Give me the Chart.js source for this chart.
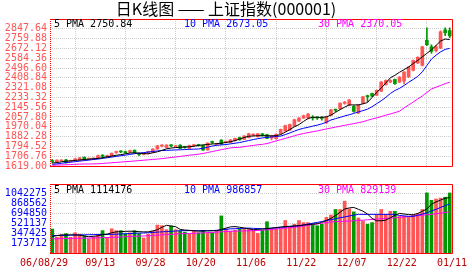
<!DOCTYPE html>
<html>
<head>
<meta charset="utf-8">
<script src="https://cdn.jsdelivr.net/npm/chart.js@4/dist/chart.umd.min.js"></script>
<style>
  body { margin: 0; background: #fff; }
  #wrap { position: relative; width: 472px; height: 273px; }
  #kline { position: absolute; left: 0; top: 0; }
  #vol { position: absolute; left: 0; top: 175px; }
</style>
</head>
<body>
<div id="wrap">
  <canvas id="kline" width="472" height="175"></canvas>
  <canvas id="vol" width="472" height="98"></canvas>
</div>
<script>
// x tick labels, one every 11 trading days
const dates = ['06/08/29', '09/13', '09/28', '10/20', '11/06', '11/22', '12/07', '12/22', '01/11'];
const priceTicks = [1619.00, 1706.76, 1794.52, 1882.28, 1970.04, 2057.80, 2145.56, 2233.32,
                    2321.08, 2408.84, 2496.60, 2584.36, 2672.12, 2759.88, 2847.64];
const priceMax = 2935.40;
const volTicks = [173712, 347425, 521137, 694850, 868562, 1042275];
const volTickMax = 1215987;
const volMax = 1387500;

const priceLegend = ['5 PMA 2750.84', '10 PMA 2673.05', '30 PMA 2370.05'];
const volLegend = ['5 PMA 1114176', '10 PMA 986857', '30 PMA 829139'];

// daily candles
const opens = [
  1663,1654,1664,1674,1660,1672,1672,1698,1680,1680,
  1689,1710,1702,1706,1740,1748,1748,1742,1760,1726,
  1722,1733,1742,1771,1798,1786,1804,1792,1806,1790,
  1777,1800,1806,1803,1763,1834,1812,1850,1830,1829,
  1845,1873,1858,1873,1895,1882,1902,1899,1870,1864,
  1908,1932,1941,1976,2020,2049,2049,2055,2052,2050,
  2010,2073,2122,2131,2180,2166,2152,2093,2181,2245,
  2268,2253,2289,2347,2371,2394,2371,2380,2417,2476,
  2541,2520,2745,2687,2652,2675,2838,2832];
const highs = [
  1678,1675,1676,1678,1672,1686,1696,1700,1690,1694,
  1716,1722,1716,1736,1752,1756,1752,1762,1764,1735,
  1738,1752,1774,1804,1810,1810,1810,1802,1810,1796,
  1806,1812,1814,1806,1828,1842,1824,1856,1842,1856,
  1870,1878,1892,1912,1908,1912,1912,1902,1894,1906,
  1950,1985,1994,2038,2053,2075,2090,2070,2062,2062,
  2062,2126,2130,2185,2198,2215,2160,2170,2243,2254,
  2272,2300,2375,2390,2392,2398,2420,2465,2510,2568,
  2597,2692,2856,2705,2700,2830,2856,2856];
const lows = [
  1648,1650,1660,1645,1656,1668,1668,1674,1675,1676,
  1686,1692,1699,1702,1732,1738,1734,1738,1734,1712,
  1718,1728,1738,1768,1790,1782,1792,1788,1774,1778,
  1774,1794,1796,1758,1760,1820,1806,1812,1826,1826,
  1842,1850,1855,1870,1890,1878,1886,1864,1852,1860,
  1904,1928,1937,1972,2016,2044,2040,2030,2036,2030,
  1998,2068,2105,2126,2172,2158,2100,2088,2176,2195,
  2240,2248,2285,2342,2366,2350,2366,2355,2412,2470,
  2536,2515,2696,2628,2640,2670,2786,2768];
const closes = [
  1659,1672,1670,1648,1668,1683,1692,1676,1684,1689,
  1712,1706,1712,1733,1744,1745,1737,1757,1737,1722,
  1734,1748,1771,1800,1802,1806,1800,1797,1777,1784,
  1803,1805,1802,1762,1824,1830,1817,1815,1838,1853,
  1867,1853,1888,1908,1903,1908,1898,1867,1890,1902,
  1946,1981,1990,2034,2049,2069,2084,2049,2048,2045,
  2058,2122,2118,2181,2190,2210,2108,2166,2239,2240,
  2245,2297,2371,2385,2385,2356,2415,2461,2505,2564,
  2593,2687,2705,2646,2687,2821,2812,2784];

// price moving averages as drawn
const ma5 = [
  1645,1650,1656,1662,1665,1669,1673,1677,1680,1684,
  1687,1693,1701,1708,1715,1721,1728,1735,1737,1734,
  1730,1728,1737,1746,1759,1773,1780,1784,1787,1789,
  1791,1796,1803,1808,1812,1816,1819,1823,1830,1836,
  1847,1860,1874,1885,1888,1890,1891,1890,1889,1891,
  1900,1922,1946,1970,1990,2018,2045,2055,2055,2055,
  2059,2075,2099,2124,2146,2166,2166,2166,2176,2187,
  2233,2277,2317,2361,2409,2431,2458,2482,2505,2536,
  2565,2596,2628,2659,2698,2738,2756,2751];
const ma10 = [
  1634,1638,1643,1649,1653,1658,1663,1667,1672,1677,
  1681,1687,1693,1699,1705,1711,1716,1723,1729,1734,
  1739,1744,1749,1754,1757,1759,1761,1763,1764,1766,
  1768,1770,1771,1778,1787,1798,1804,1808,1811,1817,
  1823,1829,1838,1847,1856,1864,1871,1875,1879,1883,
  1887,1900,1915,1931,1946,1957,1966,1976,1985,1996,
  2011,2031,2043,2055,2067,2078,2090,2103,2115,2128,
  2150,2177,2203,2233,2268,2295,2314,2340,2368,2394,
  2421,2462,2519,2576,2611,2641,2663,2673];
const ma30 = [
  1625,1627,1629,1630,1632,1634,1636,1637,1637,1638,
  1639,1642,1645,1648,1651,1654,1658,1660,1664,1667,
  1671,1674,1678,1681,1685,1690,1695,1700,1705,1710,
  1716,1720,1725,1731,1740,1748,1757,1765,1773,1781,
  1785,1786,1792,1798,1803,1809,1813,1820,1831,1844,
  1855,1866,1877,1890,1901,1910,1918,1926,1933,1942,
  1951,1959,1967,1975,1983,1991,1999,2007,2015,2028,
  2040,2050,2061,2074,2085,2097,2109,2139,2165,2192,
  2219,2246,2278,2309,2325,2340,2356,2370];

// daily volume
const vols = [
  481000,315000,364000,389000,315000,407000,376000,346000,284000,327000,
  376000,450000,315000,487000,450000,450000,389000,407000,450000,389000,
  302000,376000,438000,561000,549000,469000,543000,469000,450000,419000,
  376000,438000,407000,450000,407000,407000,438000,746000,487000,438000,
  457000,487000,487000,487000,457000,394000,457000,629000,487000,487000,
  487000,653000,518000,579000,653000,611000,611000,592000,549000,579000,
  716000,764000,875000,875000,1042000,888000,827000,703000,642000,579000,
  611000,777000,875000,777000,838000,838000,734000,734000,734000,764000,
  796000,875000,1208000,1060000,1086000,1104000,1123000,1208000];
const vma5 = [
  333000,348000,364000,364000,364000,364000,361000,342000,327000,337000,
  344000,370000,379000,407000,425000,429000,435000,438000,435000,429000,
  425000,425000,444000,466000,518000,557000,542000,529000,475000,462000,
  455000,448000,438000,442000,444000,448000,449000,472000,500000,525000,
  531000,518000,503000,488000,468000,475000,483000,490000,500000,511000,
  522000,531000,537000,544000,549000,561000,570000,579000,588000,616000,
  655000,696000,753000,818000,884000,907000,916000,879000,842000,783000,
  697000,648000,648000,661000,707000,759000,796000,784000,773000,768000,
  796000,838000,884000,981000,1027000,1064000,1101000,1114176];
const vma10 = [
  348000,352000,353000,355000,359000,361000,364000,366000,368000,370000,
  372000,373000,373000,376000,377000,383000,387000,390000,396000,400000,
  403000,407000,413000,420000,425000,431000,436000,442000,448000,450000,
  450000,450000,450000,450000,450000,450000,457000,466000,475000,485000,
  488000,494000,498000,500000,496000,492000,488000,490000,500000,507000,
  516000,524000,533000,540000,549000,566000,583000,599000,616000,633000,
  651000,668000,690000,709000,725000,744000,760000,777000,777000,777000,
  777000,777000,777000,777000,777000,777000,755000,746000,738000,736000,
  760000,784000,807000,847000,877000,916000,951000,986857];
const vma30 = [
  283000,285000,289000,290000,292000,294000,296000,298000,300000,303000,
  305000,309000,311000,315000,318000,322000,327000,331000,335000,339000,
  342000,346000,352000,359000,364000,370000,376000,381000,389000,390000,
  392000,396000,401000,405000,409000,414000,420000,425000,431000,437000,
  440000,442000,444000,446000,450000,453000,459000,466000,474000,483000,
  492000,501000,509000,518000,529000,542000,557000,570000,585000,598000,
  612000,625000,631000,635000,638000,642000,648000,655000,660000,668000,
  675000,681000,688000,696000,701000,709000,716000,725000,733000,742000,
  749000,759000,768000,777000,790000,801000,816000,829139];

const UP = '#ff5555', DOWN = '#009900';
const barColors = opens.map((o, i) => closes[i] >= o ? UP : DOWN);
const tickPos = dates.map((d, k) => k * 11);
const mono = 'DejaVu Sans Mono';

// red frame (dotted on the left) and the PMA captions inside the plot
const framePlugin = {
  id: 'frame',
  afterDraw(chart, args, opts) {
    const { ctx, chartArea: { left, right, top, bottom } } = chart;
    ctx.save();
    ctx.strokeStyle = '#ff0000';
    ctx.lineWidth = 1;
    ctx.beginPath();
    ctx.moveTo(left, top + 0.5);
    ctx.lineTo(right + 0.5, top + 0.5);
    ctx.lineTo(right + 0.5, bottom + 0.5);
    ctx.lineTo(left, bottom + 0.5);
    ctx.stroke();
    ctx.setLineDash([1, 1]);
    ctx.beginPath();
    ctx.moveTo(left + 0.5, top);
    ctx.lineTo(left + 0.5, bottom + 1);
    ctx.stroke();
    ctx.font = '10px "' + mono + '"';
    ctx.textBaseline = 'middle';
    const w = right - left;
    opts.labels.forEach((t, k) => {
      ctx.fillStyle = opts.colors[k];
      ctx.fillText(t, k === 0 ? left + 4 : left + k * w / 3, top + opts.dy);
    });
    ctx.restore();
  }
};

function xScale(showLabels, height) {
  return {
    type: 'linear', min: 0, max: 88, offset: false,
    afterBuildTicks: s => { s.ticks = tickPos.map(v => ({ value: v })); },
    afterFit: s => { s.height = height; },
    ticks: {
      display: showLabels, autoSkip: false, maxRotation: 0, padding: 4,
      color: '#bb0000', font: { family: mono, size: 10 },
      callback: (v, i) => i === 0 ? dates[i] + '  ' : dates[i]
    },
    grid: { color: '#cccccc', drawTicks: false },
    border: { display: false, dash: [1, 1] }
  };
}

function lineSet(arr, color, axis) {
  return {
    type: 'line', data: arr.map((v, i) => ({ x: i + 0.5, y: v })),
    borderColor: color, borderWidth: 1, pointRadius: 0, fill: false,
    tension: 0, order: 0, yAxisID: axis
  };
}

new Chart(document.getElementById('kline'), {
  type: 'bar',
  data: {
    datasets: [
      { data: highs.map((h, i) => ({ x: i + 0.5, y: [lows[i], h] })),
        backgroundColor: barColors, barThickness: 1, grouped: false, order: 2 },
      { data: opens.map((o, i) => ({ x: i + 0.5, y: [o, closes[i]] })),
        backgroundColor: barColors, barThickness: 3, minBarLength: 1, grouped: false, order: 1 },
      lineSet(ma5, '#000000', 'y'),
      lineSet(ma10, '#0000ff', 'y'),
      lineSet(ma30, '#ff00ff', 'y')
    ]
  },
  options: {
    responsive: false, animation: false, devicePixelRatio: 1,
    layout: { padding: { left: 0, right: 20, top: 0, bottom: 0 } },
    plugins: {
      legend: { display: false }, tooltip: { enabled: false },
      title: {
        display: true, text: '日K线图 —— 上证指数(000001)', color: '#000',
        font: { family: '"Noto Sans CJK SC"', size: 16, weight: 'normal', lineHeight: 1 },
        padding: { top: 1, bottom: 2 }
      },
      frame: { labels: priceLegend, colors: ['#000000', '#0000ff', '#ff00ff'], dy: 5 }
    },
    scales: {
      x: xScale(false, 6),
      y: {
        min: priceTicks[0], max: priceMax,
        afterBuildTicks: s => { s.ticks = priceTicks.map(v => ({ value: v })); },
        afterFit: s => { s.width = 50; },
        ticks: { color: '#ff5555', padding: 3, autoSkip: false, font: { family: mono, size: 10 },
                 callback: v => v.toFixed(2) },
        grid: { color: '#cccccc', drawTicks: false },
        border: { display: false, dash: [1, 1] }
      }
    }
  },
  plugins: [framePlugin]
});

new Chart(document.getElementById('vol'), {
  type: 'bar',
  data: {
    datasets: [
      { data: vols.map((v, i) => ({ x: i + 0.5, y: v })), yAxisID: 'y',
        backgroundColor: barColors, barThickness: 3, grouped: false, order: 1 },
      lineSet(vma5, '#000000', 'y'),
      lineSet(vma10, '#0000ff', 'y'),
      lineSet(vma30, '#ff00ff', 'y')
    ]
  },
  options: {
    responsive: false, animation: false, devicePixelRatio: 1,
    layout: { padding: { left: 0, right: 20, top: 3, bottom: 0 } },
    plugins: {
      legend: { display: false }, tooltip: { enabled: false },
      frame: { labels: volLegend, colors: ['#000000', '#0000ff', '#ff00ff'], dy: 6 }
    },
    scales: {
      x: xScale(true, 20),
      y: { display: false, min: 0, max: volMax },
      yl: {
        position: 'left', min: 0, max: volTickMax,
        afterBuildTicks: s => { s.ticks = volTicks.map(v => ({ value: v })); },
        afterFit: s => { s.width = 50; },
        ticks: { color: '#0000ff', padding: 3, autoSkip: false, font: { family: mono, size: 10 },
                 callback: v => String(v) },
        grid: { color: '#cccccc', drawTicks: false },
        border: { display: false, dash: [1, 1] }
      }
    }
  },
  plugins: [framePlugin]
});
</script>
</body>
</html>
